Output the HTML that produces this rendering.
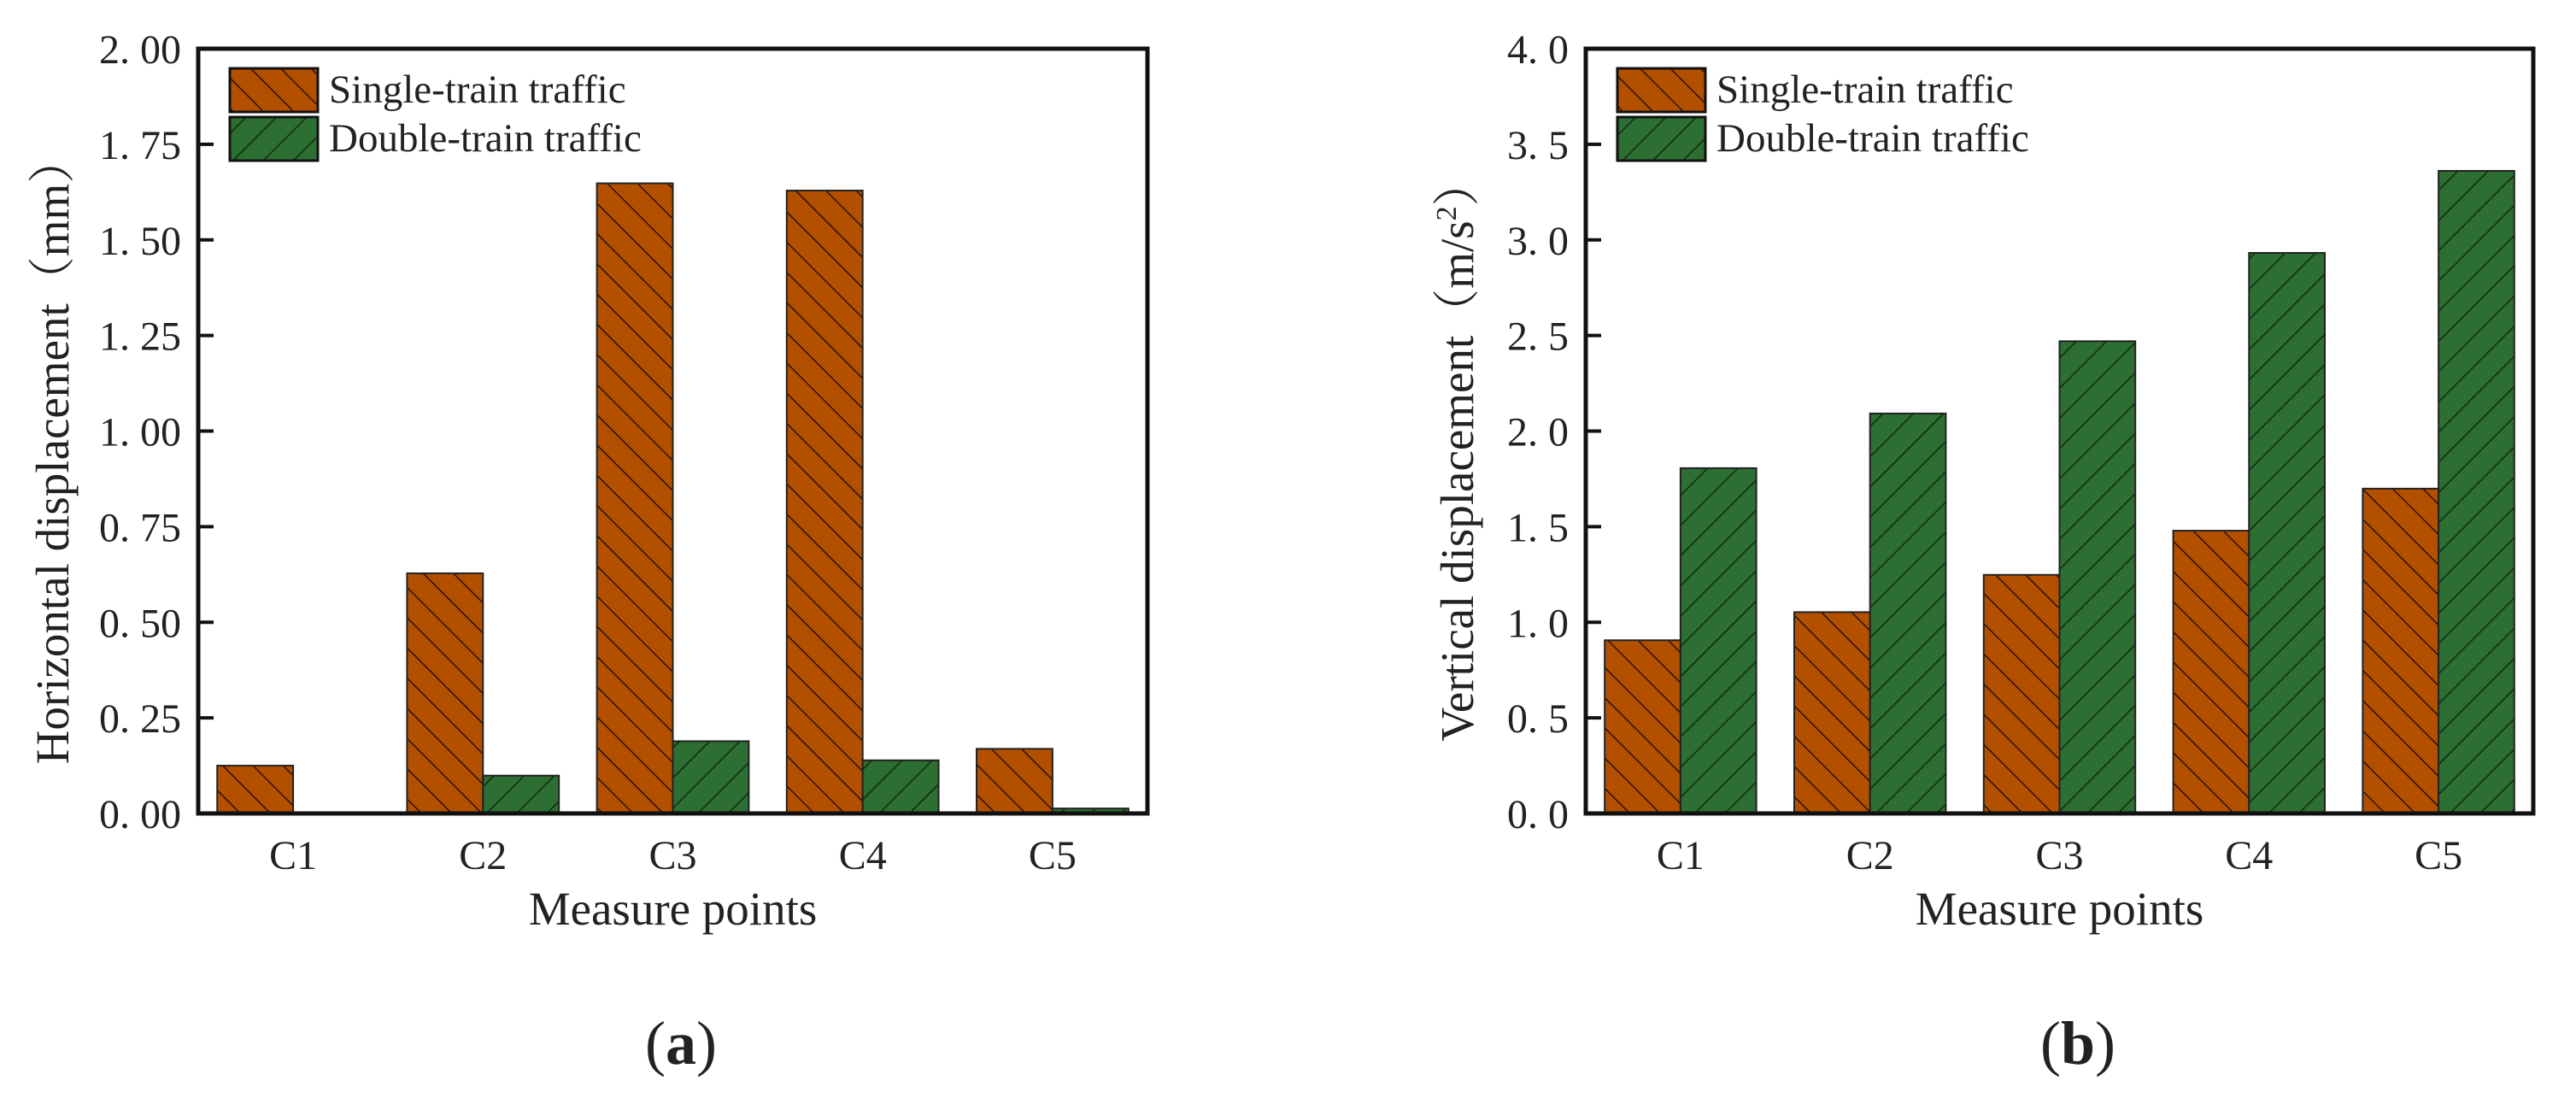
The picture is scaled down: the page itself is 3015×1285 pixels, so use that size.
<!DOCTYPE html>
<html><head><meta charset="utf-8"><style>
body{margin:0;background:#fff;width:3015px;height:1285px;overflow:hidden}
svg{display:block}
text{font-family:"Liberation Serif","Noto Serif CJK SC",serif;fill:#222}
</style></head><body>
<svg id="chart" width="3015" height="1285" viewBox="0 0 3015 1285" xmlns="http://www.w3.org/2000/svg">
<defs>
<pattern id="hs" patternUnits="userSpaceOnUse" width="25" height="25" patternTransform="rotate(-45)">
<rect width="25" height="25" fill="#b35000"/><line x1="0" y1="0" x2="0" y2="25" stroke="#2a1000" stroke-width="3"/></pattern>
<pattern id="hd" patternUnits="userSpaceOnUse" width="25" height="25" patternTransform="rotate(45)">
<rect width="25" height="25" fill="#2d6e32"/><line x1="0" y1="0" x2="0" y2="25" stroke="#0f2a10" stroke-width="3"/></pattern>
</defs>
<g id="pa"></g>
<g id="pb"></g>
<text x="797" y="1245" font-size="72" text-anchor="middle">(<tspan font-weight="bold">a</tspan>)</text>
<text x="2432" y="1245" font-size="72" text-anchor="middle">(<tspan font-weight="bold">b</tspan>)</text>
</svg>
<script>
const categories = ["C1","C2","C3","C4","C5"];
const singleA = [0.125,0.628,1.648,1.629,0.169];
const doubleA = [0.003,0.099,0.189,0.139,0.013];
const ticksA = ["0. 00","0. 25","0. 50","0. 75","1. 00","1. 25","1. 50","1. 75","2. 00"];
const singleB = [0.906,1.053,1.248,1.479,1.699];
const doubleB = [1.806,2.092,2.470,2.932,3.361];
const ticksB = ["0. 0","0. 5","1. 0","1. 5","2. 0","2. 5","3. 0","3. 5","4. 0"];
const NS="http://www.w3.org/2000/svg";
function mk(p,tag,at,txt){const e=document.createElementNS(NS,tag);for(const k in at)e.setAttribute(k,at[k]);if(txt!==undefined)e.textContent=txt;p.appendChild(e);return e;}
function panel(g,x0,x1,ymax,ticks,s,d,ylabel,ylx,tickEnd){
  const y0=57,y1=952;
  const yS=v=>y1-(v/ymax)*(y1-y0);
  const band=(x1-x0)/categories.length;
  const xS=i=>x0+i*band;
  for(let i=0;i<categories.length;i++){
    const bw=band*0.4;
    const r1=mk(g,'rect',{x:xS(i)+band*0.1,y:yS(s[i]),width:bw,height:y1-yS(s[i]),fill:'url(#hs)',stroke:'#222','stroke-width':2});
    
    
    const r2=mk(g,'rect',{x:xS(i)+band*0.5,y:yS(d[i]),width:bw,height:y1-yS(d[i]),fill:'url(#hd)',stroke:'#222','stroke-width':2});
    
    
    const t=mk(g,'text',{x:xS(i)+band*0.5,y:1017,'font-size':48,'text-anchor':'middle'},categories[i]);
    
    
  }
  ticks.forEach((lb,j)=>{
    const v=j*ymax/(ticks.length-1);
    const y=yS(v);
    const l=mk(g,'line',{x1:x0,x2:x0+18,y1:y,y2:y,stroke:'#111','stroke-width':4});
    
    
    const t=mk(g,'text',{x:tickEnd,y:y+17,'font-size':48,'text-anchor':'end'},lb);
    
    
  });
  const fr=mk(g,'rect',{x:x0,y:y0,width:x1-x0,height:y1-y0,fill:'none',stroke:'#111','stroke-width':5});
  
  
  const xl=mk(g,'text',{x:(x0+x1)/2,y:1082,'font-size':55,'text-anchor':'middle'},'Measure points');
  
  
  const yl=mk(g,'text',{x:0,y:0,'font-size':55,'text-anchor':'middle',transform:`translate(${ylx},527) rotate(-90)`});
  yl.innerHTML=ylabel;
  
  
  const lx=x0+37;
  [['url(#hs)','Single-train traffic',80],['url(#hd)','Double-train traffic',137]].forEach(([f,lab,y])=>{
    const b=mk(g,'rect',{x:lx,y:y,width:103,height:51,fill:f,stroke:'#111','stroke-width':3});
    
    
    const t=mk(g,'text',{x:lx+116,y:y+40,'font-size':47},lab);
    
    
  });
}
panel(document.getElementById('pa'),232,1343,2.0,ticksA,singleA,doubleA,'Horizontal displacement（mm）',80,212);
panel(document.getElementById('pb'),1856,2965,4.0,ticksB,singleB,doubleB,'Vertical displacement（m/s<tspan font-size="34" dy="-20">2</tspan><tspan dy="20">）</tspan>',1724,1836);
</script>
</body></html>
